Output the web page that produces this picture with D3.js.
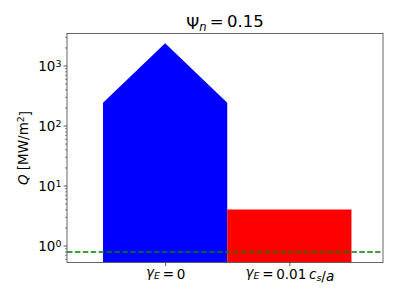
<!DOCTYPE html>
<html>
<head>
<meta charset="utf-8">
<script src="https://cdn.jsdelivr.net/npm/d3@7"></script>
<style>
  body { margin: 0; background: #fff; }
  text { font-family: "DejaVu Sans", sans-serif; fill: #000; }
</style>
</head>
<body>
<div id="chart"></div>
<script>
// values
const categories = ["g0", "g001"];
const barValues = [240, 4.0];
const peakValues = [2360, null];   // arrow tip above the first bar
const thresholdValue = 0.78;
const yTickValues = [1, 10, 100, 1000];
const yTickExps = ["0", "1", "2", "3"];
const barColors = ["#0000ff", "#ff0000"];

const W = 399, H = 299;
const plot = { left: 67, right: 383, top: 33.5, bottom: 262.5 };

const svg = d3.select("#chart").append("svg")
    .attr("width", W)
    .attr("height", H);

const x = d3.scaleLinear()
    .domain([-0.79, 1.754])
    .range([plot.left, plot.right]);

const y = d3.scaleLog()
    .domain([0.521, 3415])
    .range([plot.bottom, plot.top]);

const yMin = y.domain()[0];

// bars (the first one has a pointed top)
categories.forEach(function(c, i) {
    const pts = [[i - 0.5, yMin], [i - 0.5, barValues[i]]];
    if (peakValues[i] != null) pts.push([i, peakValues[i]]);
    pts.push([i + 0.5, barValues[i]], [i + 0.5, yMin]);
    svg.append("path")
        .attr("d", d3.line().x(p => x(p[0])).y(p => y(p[1]))(pts) + "Z")
        .attr("fill", barColors[i]);
});

// threshold line
svg.append("line")
    .attr("x1", plot.left).attr("x2", plot.right)
    .attr("y1", y(thresholdValue)).attr("y2", y(thresholdValue))
    .attr("stroke", "#008000")
    .attr("stroke-width", 1.5)
    .attr("stroke-dasharray", "5.5,2.4");

// frame
svg.append("rect")
    .attr("x", plot.left).attr("y", plot.top)
    .attr("width", plot.right - plot.left)
    .attr("height", plot.bottom - plot.top)
    .attr("fill", "none")
    .attr("stroke", "#555")
    .attr("stroke-width", 0.9);

// y axis, major and minor ticks
const minor = [];
for (let e = -1; e <= 3; e++) {
    for (let m = 2; m <= 9; m++) {
        const v = m * Math.pow(10, e);
        if (v >= yMin && v <= y.domain()[1]) minor.push(v);
    }
}
svg.append("g")
    .attr("transform", `translate(${plot.left},0)`)
    .call(d3.axisLeft(y).tickValues(minor).tickSize(2).tickFormat(""))
    .call(g => g.select(".domain").remove())
    .call(g => g.selectAll("line").attr("stroke", "#333").attr("stroke-width", 0.6));

const yAxis = svg.append("g")
    .attr("transform", `translate(${plot.left},0)`)
    .call(d3.axisLeft(y).tickValues(yTickValues).tickSize(3.5).tickFormat(""))
    .call(g => g.select(".domain").remove())
    .call(g => g.selectAll("line").attr("stroke", "#333").attr("stroke-width", 0.8));

yAxis.selectAll(".tick").each(function(d, i) {
    const t = d3.select(this).append("text")
        .attr("x", -5.5)
        .attr("dy", "0.36em")
        .attr("text-anchor", "end")
        .style("font-size", "13.5px");
    t.append("tspan").text("10");
    t.append("tspan").attr("dy", "-0.45em").style("font-size", "9.5px").text(yTickExps[i]);
    t.append("tspan").attr("dy", "0.45em").text("");
});

// x axis ticks and math labels
const xAxis = svg.append("g")
    .attr("transform", `translate(0,${plot.bottom})`)
    .call(d3.axisBottom(x).tickValues(d3.range(categories.length)).tickSize(3.5).tickFormat(""))
    .call(g => g.select(".domain").remove())
    .call(g => g.selectAll("line").attr("stroke", "#333").attr("stroke-width", 0.8));

const sub = (t, s) => {
    t.append("tspan").attr("dy", "0.25em").style("font-size", "9.5px").style("font-style", "italic").text(s);
    t.append("tspan").attr("dy", "-0.25em").text("");
};

xAxis.selectAll(".tick").each(function(d, i) {
    const t = d3.select(this).append("text")
        .attr("y", 14)
        .attr("text-anchor", "middle")
        .style("font-size", "13.5px");
    t.append("tspan").style("font-style", "italic").text("γ");
    sub(t, "E");
    if (categories[i] === "g0") {
        t.append("tspan").text("\u2009=\u20090");
    } else {
        t.append("tspan").text("\u2009=\u20090.01\u2009");
        t.append("tspan").style("font-style", "italic").text("c");
        sub(t, "s");
        t.append("tspan").text("/");
        t.append("tspan").style("font-style", "italic").text("a");
    }
});

// y label
const yl = svg.append("text")
    .attr("transform", `translate(28,${(plot.top + plot.bottom) / 2}) rotate(-90)`)
    .attr("text-anchor", "middle")
    .style("font-size", "13.5px");
yl.append("tspan").style("font-style", "italic").text("Q");
yl.append("tspan").text(" [MW/m");
yl.append("tspan").attr("dy", "-0.45em").style("font-size", "9.5px").text("2");
yl.append("tspan").attr("dy", "0.45em").text("]");

// title
const title = svg.append("text")
    .attr("x", (plot.left + plot.right) / 2)
    .attr("y", 28.5)
    .attr("text-anchor", "middle")
    .style("font-size", "16.5px");
title.append("tspan").text("Ψ");
title.append("tspan").attr("dy", "0.25em").style("font-size", "11.5px").style("font-style", "italic").text("n");
title.append("tspan").attr("dy", "-0.25em").text("\u2009=\u20090.15");
</script>
</body>
</html>
